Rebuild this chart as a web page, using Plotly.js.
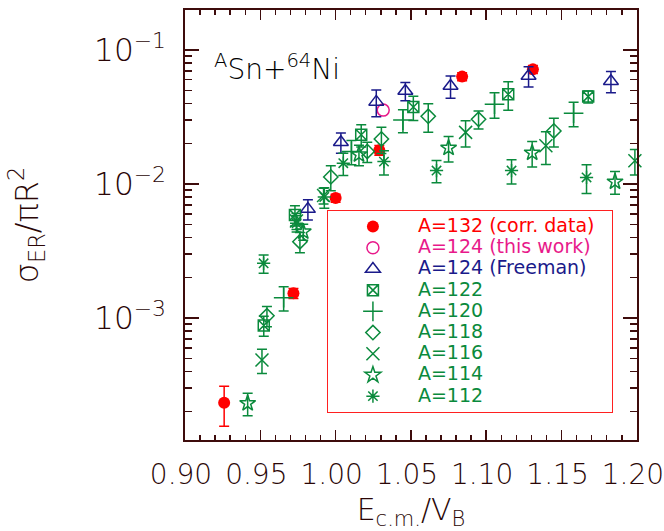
<!DOCTYPE html>
<html>
<head>
<meta charset="utf-8">
<script src="https://cdn.plot.ly/plotly-3.0.1.min.js"></script>
<style>html,body{margin:0;padding:0;background:#fff;}#chart{width:664px;height:531px;}</style>
</head>
<body>
<div id="chart"></div>
<script>
// ---- data (x = Ecm/VB, y = sigma_ER/piR^2, err = symmetric error) ----
const x132 = [0.926, 0.972, 1.000, 1.029, 1.084, 1.131];
const y132 = [2.33e-4, 1.53e-3, 7.85e-3, 1.79e-2, 6.33e-2, 7.17e-2];
const e132 = [7.7e-5, 1.3e-4, 5.4e-4, 1.5e-3, 4.4e-3, 4.9e-3];

const x124w = [1.0316];
const y124w = [3.56e-2];

const x124f = [0.9816, 1.0035, 1.027, 1.0463, 1.0763, 1.1281, 1.1828];
const y124f = [6.5e-3, 2.05e-2, 4.1e-2, 4.95e-2, 5.38e-2, 6.4e-2, 5.85e-2];
const e124f = [1.12e-3, 3.5e-3, 9.2e-3, 7.7e-3, 1.02e-2, 1.1e-2, 1.05e-2];

const x122 = [0.9523, 0.973, 1.017, 1.0516, 1.1146, 1.1677];
const y122 = [8.8e-4, 5.87e-3, 2.33e-2, 3.75e-2, 4.67e-2, 4.49e-2];
const e122 = [1.5e-4, 1.0e-3, 4.4e-3, 7.7e-3, 1.12e-2, 4.6e-3];

const x120 = [0.9655, 1.0105, 1.0447, 1.1055, 1.158];
const y120 = [1.42e-3, 1.75e-2, 3.0e-2, 3.94e-2, 3.38e-2];
const e120 = [2.9e-4, 3.6e-3, 5.9e-3, 8.5e-3, 7.0e-3];

const x118 = [0.9544, 0.9763, 0.9968, 1.021, 1.0304, 1.0615, 1.0949, 1.1449];
const y118 = [1.04e-3, 3.71e-3, 1.13e-2, 1.75e-2, 2.17e-2, 3.2e-2, 3.04e-2, 2.49e-2];
const e118 = [1.8e-4, 6.4e-4, 2.4e-3, 3.0e-3, 4.8e-3, 7.7e-3, 4.7e-3, 6.0e-3];

const x116 = [0.9511, 0.974, 0.992, 1.0863, 1.1396, 1.1987];
const y116 = [4.86e-4, 5.3e-3, 8.2e-3, 2.43e-2, 1.93e-2, 1.49e-2];
const e116 = [1.0e-4, 7.3e-4, 1.1e-3, 5.4e-3, 5.3e-3, 3.2e-3];

const x114 = [0.9416, 0.9785, 1.0155, 1.075, 1.1305, 1.1855];
const y114 = [2.31e-4, 4.41e-3, 1.66e-2, 1.86e-2, 1.71e-2, 1.04e-2];
const e114 = [4.4e-5, 6.1e-4, 2.9e-3, 4.0e-3, 3.7e-3, 2.0e-3];

const x112 = [0.9522, 0.9741, 0.9925, 1.0051, 1.0321, 1.067, 1.1168, 1.1666];
const y112 = [2.56e-3, 5.09e-3, 8.0e-3, 1.43e-2, 1.47e-2, 1.26e-2, 1.26e-2, 1.12e-2];
const e112 = [4.0e-4, 7.0e-4, 1.4e-3, 2.7e-3, 3.0e-3, 2.4e-3, 2.6e-3, 2.7e-3];

const legendLabels = ['A=132 (corr. data)', 'A=124 (this work)', 'A=124 (Freeman)',
  'A=122', 'A=120', 'A=118', 'A=116', 'A=114', 'A=112'];
const xTickLabelFormat = '.2f';

// ---- styles ----
const RED = '#ff0000', MAG = '#e8198a', NAVY = '#1a1a8a', GREEN = '#0a8a3c';
const AX = '#3e0c0c', TXT = '#2a0606';
const FONT = 'DejaVu Sans';

function lab(i, c) {
  return '<span style="font-size:19px;color:' + c + '">' + legendLabels[i] + (i === 0 ? '\u00a0\u00a0' : '') + '</span>';
}
function tr(x, y, e, i, color, symbol, size) {
  const t = {
    type: 'scatter', mode: 'markers', x: x, y: y, name: lab(i, color),
    marker: { symbol: symbol, size: size, color: color, line: { color: color, width: 1.5 } },
    cliponaxis: false
  };
  if (e) t.error_y = { type: 'data', array: e, visible: true, color: color, thickness: 1.5, width: 5 };
  return t;
}

const data = [
  tr(x132, y132, e132, 0, RED, 'circle', 12),
  tr(x124w, y124w, null, 1, MAG, 'circle-open', 12),
  tr(x124f, y124f, e124f, 2, NAVY, 'triangle-up-open', 13),
  tr(x122, y122, e122, 3, GREEN, 'square-x-open', 11),
  tr(x120, y120, e120, 4, GREEN, 'cross-thin-open', 14),
  tr(x118, y118, e118, 5, GREEN, 'diamond-open', 11),
  tr(x116, y116, e116, 6, GREEN, 'x-thin-open', 13),
  tr(x114, y114, e114, 7, GREEN, 'star-open', 12),
  tr(x112, y112, e112, 8, GREEN, 'asterisk-open', 11)
];
data[0].marker.line.width = 0;

const layout = {
  width: 664, height: 531,
  margin: { l: 185, r: 27, t: 10, b: 91 },
  paper_bgcolor: '#ffffff', plot_bgcolor: '#ffffff',
  font: { family: FONT, color: TXT },
  showlegend: true,
  legend: {
    x: 0.314, y: 0.535, xanchor: 'left', yanchor: 'top',
    bgcolor: '#ffffff', bordercolor: '#ff2020', borderwidth: 1,
    font: { family: FONT, size: 14, color: GREEN },
    itemwidth: 80, tracegroupgap: 0
  },
  xaxis: {
    range: [0.90, 1.2001], tick0: 0.9, dtick: 0.05, tickformat: xTickLabelFormat,
    ticks: 'inside', ticklen: 10, tickwidth: 1.5, tickcolor: AX,
    minor: { dtick: 0.01, ticks: 'inside', ticklen: 5, tickwidth: 1.5, tickcolor: AX },
    showline: true, linecolor: AX, linewidth: 2, mirror: 'ticks',
    showgrid: false, zeroline: false, ticklabeloverflow: 'allow',
    tickfont: { family: FONT, size: 28, color: TXT, weight: 200 },
    ticklabelstandoff: 8, ticklabelshift: -4,
    title: { text: 'E<sub>c.m.</sub>/V<sub>B</sub>', font: { family: FONT, size: 30, color: TXT, weight: 200 }, standoff: 12 }
  },
  yaxis: {
    type: 'log', range: [-3.910, -0.7015], dtick: 1, exponentformat: 'power',
    ticks: 'inside', ticklen: 14, tickwidth: 1.5, tickcolor: AX,
    minor: { dtick: 'D1', ticks: 'inside', ticklen: 7, tickwidth: 1.5, tickcolor: AX },
    showline: true, linecolor: AX, linewidth: 2, mirror: 'ticks',
    showgrid: false, zeroline: false,
    tickfont: { family: FONT, size: 25, color: TXT, weight: 200 },
    ticklabelstandoff: 12,
    title: { text: 'σ<sub>ER</sub>/πR<sup>2</sup>', font: { family: FONT, size: 32, color: TXT, weight: 200 }, standoff: 46 }
  },
  annotations: [{
    xref: 'paper', yref: 'paper', x: 0.2035, y: 0.867, xanchor: 'center', yanchor: 'middle',
    text: '<sup>A</sup>Sn+<sup>64</sup>Ni', showarrow: false,
    font: { family: FONT, size: 28, color: '#000000', weight: 200 }
  }]
};

Plotly.newPlot('chart', data, layout, { displayModeBar: false, staticPlot: true });
</script>
</body>
</html>
